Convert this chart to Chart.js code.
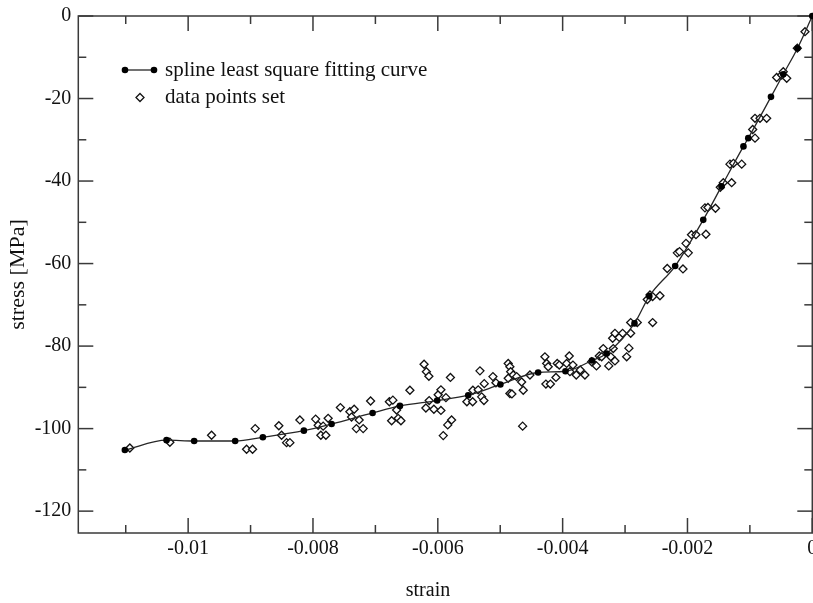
<!DOCTYPE html>
<html>
<head>
<meta charset="utf-8">
<script src="https://cdn.jsdelivr.net/npm/chart.js@4/dist/chart.umd.min.js"></script>
<style>
  html, body { margin: 0; padding: 0; background: #fff; overflow: hidden; }
  canvas { display: block; }
</style>
</head>
<body>
<canvas id="c" width="813" height="603"></canvas>
<script>
// ---- data ----
const splineStrain = [-0.011014, -0.010346, -0.009904, -0.009247, -0.008803, -0.008146, -0.007702,
  -0.007045, -0.006607, -0.006010, -0.005513, -0.004997, -0.004393, -0.003955, -0.003530, -0.003295,
  -0.002849, -0.002612, -0.002197, -0.001747, -0.001455, -0.001103, -0.001026, -0.000662, -0.000465,
  -0.000237, 0];
const splineStress = [-105.2, -102.8, -103.0, -103.0, -102.1, -100.5, -98.9,
  -96.2, -94.5, -93.2, -91.9, -89.3, -86.4, -86.1, -83.5, -81.8,
  -74.5, -67.9, -60.6, -49.4, -41.3, -31.6, -29.6, -19.6, -14.1,
  -7.8, 0];

const dataStrain = [-0.010934, -0.010293, -0.009625, -0.009064, -0.008968, -0.008926, -0.008547, -0.008503,
  -0.008423, -0.008370, -0.008210, -0.007958, -0.007917, -0.007837, -0.007757, -0.007874, -0.007793,
  -0.007561, -0.007409, -0.007340, -0.007382, -0.007260, -0.007305, -0.007196, -0.007077, -0.006776,
  -0.006720, -0.006660, -0.006740, -0.006635, -0.006591, -0.006447, -0.006220, -0.006183, -0.006143,
  -0.006138, -0.006191, -0.006063, -0.005950, -0.005994, -0.005950, -0.005870, -0.005798, -0.005779,
  -0.005841, -0.005913, -0.005534, -0.005442, -0.005438, -0.005353, -0.005298, -0.005261, -0.005325,
  -0.005256, -0.005117, -0.005069, -0.004872, -0.004845, -0.004833, -0.004792, -0.004737, -0.004872,
  -0.004845, -0.004813, -0.004657, -0.004631, -0.004641, -0.004524, -0.004284, -0.004256, -0.004231,
  -0.004268, -0.004196, -0.004107, -0.004087, -0.004054, -0.003894, -0.003936, -0.003835, -0.003883,
  -0.003782, -0.003718, -0.003643, -0.003535, -0.003458, -0.003413, -0.003375, -0.003349, -0.003261,
  -0.003228, -0.003162, -0.003189, -0.003199, -0.003162, -0.003093, -0.003039, -0.002974, -0.002938,
  -0.002910, -0.002910, -0.002804, -0.002558, -0.002644, -0.002601, -0.002558, -0.002441, -0.002324,
  -0.002072, -0.002163, -0.002128, -0.001987, -0.002024, -0.001936, -0.001864, -0.001704, -0.001720,
  -0.001672, -0.001551, -0.001474, -0.001426, -0.001292, -0.001319, -0.001263, -0.001131, -0.000918,
  -0.000955, -0.000918, -0.000838, -0.000731, -0.000571, -0.000490, -0.000410, -0.000465, -0.000240,
  -0.000117];
const dataStress = [-104.7, -103.3, -101.6, -105.0, -105.0, -100.0, -99.3, -101.6,
  -103.4, -103.4, -97.9, -97.7, -99.2, -99.4, -97.5, -101.6, -101.6,
  -94.9, -95.9, -95.3, -97.2, -97.9, -100.0, -100.0, -93.3, -93.5,
  -93.1, -95.5, -98.1, -97.5, -98.1, -90.7, -84.4, -86.2, -87.3,
  -93.2, -95.0, -95.3, -95.6, -91.8, -90.6, -92.5, -87.6, -97.9,
  -99.1, -101.7, -93.5, -93.5, -90.7, -90.6, -92.3, -93.2, -86.0,
  -89.1, -87.4, -88.9, -84.2, -85.0, -86.2, -87.0, -87.4, -87.8,
  -91.5, -91.6, -88.7, -90.7, -99.4, -87.0, -82.6, -84.2, -85.0,
  -89.2, -89.2, -87.6, -84.2, -84.6, -82.4, -84.2, -84.6, -86.2,
  -87.0, -85.8, -87.0, -83.8, -84.8, -82.4, -82.6, -80.6, -84.8,
  -82.6, -83.6, -80.6, -78.1, -76.9, -77.9, -76.9, -82.6, -80.5,
  -76.9, -74.3, -74.3, -74.3, -68.7, -67.6, -68.0, -67.8, -61.2,
  -61.3, -57.4, -57.1, -57.4, -55.1, -53.0, -53.0, -52.9, -46.5,
  -46.4, -46.6, -41.5, -40.4, -40.4, -35.9, -35.7, -35.9, -29.6,
  -27.5, -24.8, -24.8, -24.8, -14.9, -14.3, -15.1, -13.5, -7.8,
  -3.8];

const xMajorTicks = [-0.01, -0.008, -0.006, -0.004, -0.002, 0];
const xTickLabels = ['-0.01', '-0.008', '-0.006', '-0.004', '-0.002', '0'];
const xMinorTicks = [-0.011, -0.009, -0.007, -0.005, -0.003, -0.001];
const yMajorTicks = [0, -20, -40, -60, -80, -100, -120];
const yTickLabels = ['0', '-20', '-40', '-60', '-80', '-100', '-120'];
const yMinorTicks = [-10, -30, -50, -70, -90, -110];

const seriesNames = ['spline least square fitting curve', 'data points set'];
const axisTitles = { x: 'strain', y: 'stress [MPa]' };

// ---- styles ----
const FONT = '"Liberation Serif", "Times New Roman", serif';
const axisColor = '#3a3a3a';
const textColor = '#111';

const splinePts = splineStrain.map((v, i) => ({ x: v, y: splineStress[i] }));
const dataPts = dataStrain.map((v, i) => ({ x: v, y: dataStress[i] }));

const framePlugin = {
  id: 'frame',
  beforeDatasetsDraw(chart) {
    const { ctx, chartArea: a, scales: { x, y } } = chart;
    ctx.save();
    ctx.strokeStyle = axisColor;
    ctx.lineWidth = 1.5;
    ctx.strokeRect(a.left, a.top, a.right - a.left, a.bottom - a.top);
    const seg = (x1, y1, x2, y2) => { ctx.beginPath(); ctx.moveTo(x1, y1); ctx.lineTo(x2, y2); ctx.stroke(); };
    const xt = (vals, len) => vals.forEach(v => {
      const p = x.getPixelForValue(v);
      seg(p, a.bottom, p, a.bottom - len);
      seg(p, a.top, p, a.top + len);
    });
    const yt = (vals, len) => vals.forEach(v => {
      const p = y.getPixelForValue(v);
      seg(a.left, p, a.left + len, p);
      seg(a.right, p, a.right - len, p);
    });
    xt(xMajorTicks, 15); xt(xMinorTicks, 8);
    yt(yMajorTicks, 15); yt(yMinorTicks, 8);
    // x axis title (placed like the reference, slightly left of centre)
    ctx.fillStyle = textColor;
    ctx.font = '20px ' + FONT;
    ctx.textAlign = 'center';
    ctx.textBaseline = 'middle';
    ctx.fillText(axisTitles.x, 428, 591);
    ctx.restore();
  },
  afterDraw(chart) {
    const { ctx } = chart;
    const ds = chart.data.datasets;
    ctx.save();
    // legend row 1: line with filled markers
    ctx.strokeStyle = ds[0].borderColor;
    ctx.lineWidth = ds[0].borderWidth;
    ctx.beginPath(); ctx.moveTo(125, 70); ctx.lineTo(154, 70); ctx.stroke();
    ctx.fillStyle = ds[0].pointBackgroundColor;
    [125, 154].forEach(px => { ctx.beginPath(); ctx.arc(px, 70, ds[0].pointRadius, 0, Math.PI * 2); ctx.fill(); });
    // legend row 2: diamond
    ctx.fillStyle = ds[1].pointBackgroundColor; ctx.strokeStyle = ds[1].pointBorderColor; ctx.lineWidth = ds[1].pointBorderWidth;
    ctx.beginPath();
    const r = ds[1].pointRadius;
    ctx.moveTo(140, 97.5 - r); ctx.lineTo(140 + r, 97.5); ctx.lineTo(140, 97.5 + r); ctx.lineTo(140 - r, 97.5); ctx.closePath();
    ctx.fill(); ctx.stroke();
    ctx.fillStyle = textColor;
    ctx.font = '21px ' + FONT;
    ctx.textBaseline = 'middle';
    ctx.textAlign = 'left';
    ctx.fillText(ds[0].label, 165, 70);
    ctx.fillText(ds[1].label, 165, 97.5);
    ctx.restore();
  }
};

new Chart(document.getElementById('c'), {
  type: 'scatter',
  data: {
    datasets: [
      {
        label: seriesNames[0],
        data: splinePts,
        showLine: true,
        cubicInterpolationMode: 'monotone',
        borderColor: '#262626',
        borderWidth: 1.3,
        pointRadius: 3.3,
        pointBackgroundColor: '#000',
        pointBorderColor: '#000',
        pointBorderWidth: 0,
        pointHoverRadius: 3.3,
        clip: false
      },
      {
        label: seriesNames[1],
        data: dataPts,
        showLine: false,
        pointStyle: 'rectRot',
        pointRadius: 4,
        pointBackgroundColor: '#fff',
        pointBorderColor: '#111',
        pointBorderWidth: 1.3,
        pointHoverRadius: 4,
        clip: false
      }
    ]
  },
  options: {
    responsive: false,
    animation: false,
    devicePixelRatio: 1,
    layout: { autoPadding: false, padding: { top: 16, right: 0.7, left: 0, bottom: 0 } },
    plugins: { legend: { display: false }, tooltip: { enabled: false } },
    events: [],
    scales: {
      x: {
        type: 'linear',
        min: -0.01176,
        max: 0,
        grid: { display: false, drawTicks: false },
        border: { display: false },
        afterBuildTicks: s => { s.ticks = xMajorTicks.map(v => ({ value: v })); },
        afterFit: s => { s.height = 70; s.paddingLeft = 0; s.paddingRight = 0; },
        ticks: {
          autoSkip: false, maxRotation: 0, padding: 4, color: textColor,
          font: { family: FONT, size: 20 },
          callback: (v, i) => xTickLabels[i]
        },
        title: { display: false }
      },
      y: {
        type: 'linear',
        min: -125.3,
        max: 0,
        grid: { display: false, drawTicks: false },
        border: { display: false },
        afterBuildTicks: s => { s.ticks = yMajorTicks.map(v => ({ value: v })); },
        afterFit: s => { s.width = 78.3; s.paddingTop = 0; s.paddingBottom = 0; },
        ticks: {
          autoSkip: false, padding: 7, color: textColor,
          font: { family: FONT, size: 20 },
          callback: (v, i) => yTickLabels[i]
        },
        title: { display: true, text: axisTitles.y, color: textColor, font: { family: FONT, size: 22 }, padding: { top: 5, bottom: 0 } }
      }
    }
  },
  plugins: [framePlugin]
});
</script>
</body>
</html>
